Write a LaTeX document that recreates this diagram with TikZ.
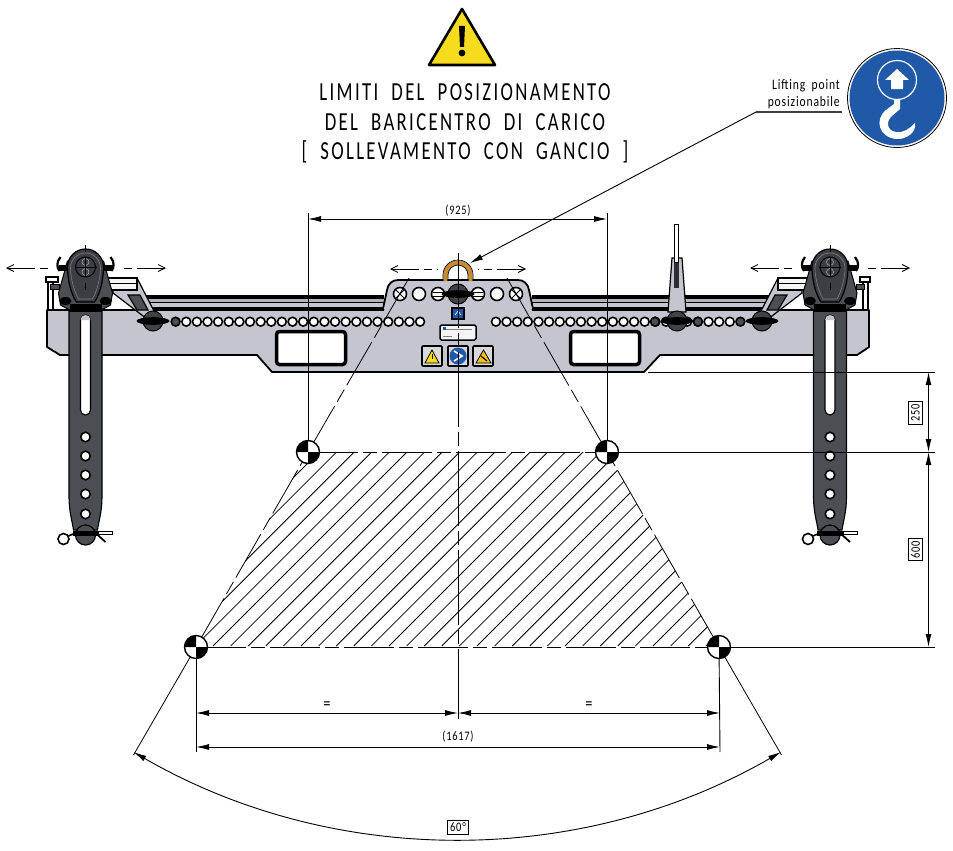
\documentclass[tikz,border=0pt]{standalone}
\usepackage{fontspec}
\setmainfont{Carlito}
\newfontfamily\titlefont[LetterSpace=9,FakeStretch=0.72,WordSpace=2]{Carlito}
\newfontfamily\dimfont[LetterSpace=6,FakeStretch=0.8,WordSpace=1.8]{Carlito}
\usetikzlibrary{arrows.meta,calc}
\definecolor{beamgrey}{HTML}{C5C5CF}
\definecolor{darksteel}{HTML}{4B4E53}
\definecolor{signblue}{HTML}{2059A8}
\definecolor{signyellow}{HTML}{F6DC1E}
\definecolor{eyeorange}{HTML}{C98A32}
\tikzset{
  dimline/.style={line width=0.9pt,{Latex[length=13pt,width=6pt]}-{Latex[length=13pt,width=6pt]}},
  extline/.style={line width=0.9pt},
  axisline/.style={line width=0.8pt,dash pattern=on 50pt off 5pt on 14pt off 5pt},
  hole/.style={circle,draw=black,fill=white,line width=1.6pt,inner sep=0pt,minimum size=#1},
  hole/.default=8.8pt,
  dimtext/.style={font=\dimfont\fontsize{13}{13}\selectfont,inner sep=1pt},
  eqtext/.style={font=\dimfont\fontsize{18}{18}\selectfont,inner sep=0pt},
  boxtext/.style={dimtext,draw=black,fill=white,line width=0.7pt,inner sep=2.5pt},
  titletext/.style={font=\titlefont\fontsize{26}{26}\selectfont,inner sep=0pt},
  cogmark/.pic={
    \fill[white] (0,0) circle (11.5);
    \fill[black] (0,0) -- (11.5,0) arc (0:90:11.5) -- cycle;
    \fill[black] (0,0) -- (-11.5,0) arc (180:270:11.5) -- cycle;
    \draw[line width=1.4pt] (0,0) circle (11.5);
  },
  knob/.pic={
    \fill[darksteel!85!black,draw=black,line width=1pt] (0,0) circle (10);
    \fill[black] (0,0) ellipse (16.5 and 3.8);
  },
  hanger/.pic={
    % foot behind the head
    \fill[darksteel,draw=black,line width=1pt] (-18,-6) -- (-27,26) -- (-25,38) -- (-14,44) -- (14,44) -- (25,38) -- (27,26) -- (18,-6) -- cycle;
    % side rods and clips
    \fill[black] (-27,-2) rectangle (27,4);
    \draw[line width=2.2pt] (-26,4) .. controls (-29,0) and (-29,-5) .. (-25,-10);
    \draw[line width=2.2pt] (26,4) .. controls (29,0) and (29,-5) .. (25,-10);
    % strap with slot
    \fill[darksteel,draw=black,line width=1.1pt]
      (-16.5,44) -- (16.5,44) -- (16.5,230) .. controls (16.5,245) and (13,255) .. (12,263) -- (-12,263) .. controls (-13,255) and (-16.5,245) .. (-16.5,230) -- cycle;
    \fill[white,draw=black,line width=1.1pt] (-5,53) -- (-5,143) arc (180:0:5) -- (5,53) arc (360:180:5) -- cycle;
    \fill[beamgrey] (-5,53) arc (180:360:5) -- cycle;
    % black band and blobs at the foot
    \fill[black] (-20,34) ellipse (6 and 4) (20,34) ellipse (6 and 4);
    \fill[black] (-16,37) rectangle (16,45);
    % head
    \fill[darksteel!80!black,draw=black,line width=1.2pt] (-18,0) arc (180:360:18) .. controls (18,14) and (14,28) .. (9,35) -- (-9,35) .. controls (-14,28) and (-18,14) .. (-18,0) -- cycle;
    \draw[line width=0.6pt,gray] (-15,1) arc (180:360:15) .. controls (15,12) and (11,25) .. (7,32) -- (-7,32) .. controls (-11,25) and (-15,12) .. (-15,1) -- cycle;
    \draw[line width=1pt] (0,0) circle (10);
    \draw[line width=0.5pt,white!70!black] (0,-5) circle (3.5) (0,5) circle (3.5);
    \draw[line width=0.8pt] (-11,0) -- (11,0) (0,-22) -- (0,-15) (0,-10) -- (0,10) (0,16) -- (0,23);
    % holes
    \foreach \hy in {170,189,208,227,247}
      \node[hole=9.5pt] (hangerhole\hy) at (0,\hy) {};
    % pin at the bottom
    \fill[darksteel,draw=black,line width=1.2pt] (0,268) circle (10);
    \draw[line width=1.6pt] (-22,272) circle (5.5);
    \draw[line width=1.6pt] (-17,269) -- (-10,266);
    \fill[black] (-13,263.5) rectangle (13,268.5);
    \draw[line width=1pt,fill=white] (13,264) rectangle (27,267.5);
    \draw[line width=1.8pt] (10,266) -- (20,275);
  },
  sliderarm/.pic={
    % reaches from the knob (0,0) up and outward (drawn for the left side)
    \fill[beamgrey,draw=black,line width=1.2pt] (-16,-43) -- (2,-8) -- (-6,-2) -- (-40,-28) -- (-40,-43) -- cycle;
    \fill[darksteel,draw=black,line width=1.2pt] (-25,-26) -- (-13,-26) -- (-5,-11) -- (-16,-11) -- cycle;
    \fill[white!85!beamgrey,draw=black,line width=1.2pt] (-45,-43) rectangle (-16,-31);
    \draw[line width=0.8pt] (-43,-38) -- (-16,-38);
  }
}
\begin{document}
\begin{tikzpicture}[x=1pt,y=-1pt]
\useasboundingbox (0,0) rectangle (953,851);
\fill[white] (0,0) rectangle (953,851);
% key points
\coordinate (cogTL) at (308,452);
\coordinate (cogTR) at (607,452);
\coordinate (cogBL) at (196,647);
\coordinate (cogBR) at (719,647);
\coordinate (axisTop) at (458,253);
\coordinate (axisBot) at (458,719);

% warning sign
\fill[signyellow,draw=black,line width=2.6pt,line join=round] (462,9) -- (495,65) -- (429,65) -- cycle;
\fill[black] (459,26) -- (465,26) -- (464,47) -- (460,47) -- cycle;
\fill[black] (462,53) circle (3.4);

% title
\node[titletext] (title1) at (465,92) {LIMITI DEL POSIZIONAMENTO};
\node[titletext] (title2) at (465,122) {DEL BARICENTRO DI CARICO};
\node[titletext] (title3) at (465,152) {[ SOLLEVAMENTO CON GANCIO ]};

% hook sign
\node[circle,draw=black,line width=0.8pt,fill=white,minimum size=99pt,inner sep=0pt] (signout) at (897,98) {};
\node[circle,fill=signblue,minimum size=95pt,inner sep=0pt] (sign) at (897,98) {};
\node[circle,draw=white,line width=1.2pt,minimum size=39pt,inner sep=0pt] (signring) at (897,80) {};
\fill[white] (897,69) -- (909,80) -- (903,80) -- (903,89) -- (891,89) -- (891,80) -- (885,80) -- cycle;
\fill[white] (894,99.5) -- (900,99.5) -- (900,109) -- (893,115)
  .. controls (885,121) and (887,131) .. (896,132)
  .. controls (904,133) and (909,129) .. (915,123)
  .. controls (917,132) and (906,140) .. (896,139)
  .. controls (879,137) and (874,120) .. (886,110)
  -- (894,104) -- cycle;

% rails
\fill[black] (140,295) rectangle (384,312);
\fill[gray!60] (140,298.5) rectangle (384,301.5);
\fill[beamgrey] (140,303) rectangle (384,307);
\fill[black] (532,295) rectangle (775,312);
\fill[gray!60] (532,298.5) rectangle (775,301.5);
\fill[beamgrey] (532,303) rectangle (775,307);

% beam
\fill[beamgrey,draw=black,line width=1.8pt,line join=round]
  (47,310) -- (47,347) -- (60,355) -- (257,355) -- (272,372) -- (644,372) -- (660,355) -- (857,355) -- (869,347) -- (869,310) -- cycle;
% centre plate
\fill[beamgrey] (384,312) -- (387,290) .. controls (388,284) and (392,280) .. (398,280) -- (518,280) .. controls (524,280) and (528,284) .. (529,290) -- (532,312) -- cycle;
\draw[line width=1.8pt] (383,309) -- (387,290) .. controls (388,284) and (392,280) .. (398,280) -- (518,280) .. controls (524,280) and (528,284) .. (529,290) -- (533,309);

% windows
\foreach \wx in {275,569}{
  \fill[white,draw=black,line width=3.5pt,rounded corners=3pt] (\wx+1.5,331.5) rectangle (\wx+70.5,364.5);
}
% beam holes
\foreach \i in {1,...,23}{
  \node[hole] (hl\i) at ({175.6+10.63*\i},321.7) {};
  \node[hole] (hr\i) at ({740.4-10.63*\i},321.7) {};
}
\foreach \hx in {175.6,655,698,740.4}
  \node[hole,fill=darksteel] (hd\hx) at (\hx,321.7) {};

% eye
\draw[eyeorange,line width=4.4pt] (445.5,281) -- (445.5,275) arc (180:360:12.5) -- (470.5,281);
\draw[line width=0.7pt] (443,281) -- (443,275) arc (180:360:15) -- (473,281);
\draw[line width=0.7pt] (448,281) -- (448,275) arc (180:360:10) -- (468,281);

% plate holes and knob
\foreach \px in {419,497}
  \node[hole=13pt] (ph\px) at (\px,294) {};
\foreach \px in {400,516}{
  \node[hole=13pt] (ph\px) at (\px,294) {};
  \draw[line width=0.8pt] ($(\px,294)+(-4,-4)$) -- ($(\px,294)+(4,4)$) ($(\px,294)+(-4,4)$) -- ($(\px,294)+(4,-4)$);
}
\foreach \px in {438,478}{
  \node[hole=13pt] (ph\px) at (\px,294) {};
  \draw[line width=1pt] ($(\px,294)+(-5,-2)$) -- ($(\px,294)+(5,-2)$) ($(\px,294)+(-5,2)$) -- ($(\px,294)+(5,2)$);
}
\pic at (458,294) {knob};

% plate labels
\fill[signblue,draw=black,line width=1.2pt] (452,308) rectangle (464,319);
\draw[white,line width=0.6pt] (455,315) -- (458,311) -- (461,315);
\fill[white!92!gray,draw=black,line width=1.5pt,rounded corners=1.5pt] (440,325) rectangle (476,340);
\draw[gray,line width=0.5pt] (443,329) -- (472,329) (443,336) -- (452,336);
\fill[signblue] (443,327) rectangle (446,330);
% three icons
\foreach \ix in {422,448,473}
  \fill[black!15,draw=black,line width=1.6pt,rounded corners=1pt] (\ix,346) rectangle (\ix+20,366);
\fill[signyellow,draw=black,line width=0.8pt] (432,350) -- (439,363) -- (425,363) -- cycle;
\draw[line width=1pt] (432,354) -- (432,359);
\fill[signblue] (458,356) circle (8.5);
\draw[white,line width=1.6pt] (454,351) -- (462,356) -- (454,361);
\fill[signyellow!70!orange,draw=black,line width=0.8pt] (483.5,350) -- (491,363) -- (476,363) -- cycle;
\draw[line width=1.1pt] (481,356) -- (487,361);

% slider arms and knobs
\pic at (153,321) {sliderarm};
\begin{scope}[shift={(762,321)},xscale=-1]
  \pic[transform shape] at (0,0) {sliderarm};
\end{scope}
\pic at (153,321) {knob};
\pic at (762,321) {knob};
% standing arm
\fill[beamgrey,draw=black,line width=1.2pt] (668,312) -- (672,258) -- (682,258) -- (686,312) -- cycle;
\fill[darksteel!60!black] (674,258) rectangle (679,288);
\fill[white,draw=black,line width=0.9pt] (674.5,224) rectangle (678,262);
\pic at (677,321) {knob};

% end bracket (left)
\draw[line width=1.2pt,fill=white] (48,278) rectangle (53,310);
\draw[line width=1.2pt,fill=white] (46,277) -- (58,277) -- (58,282) -- (46,282) -- cycle;
\draw[line width=1pt,fill=darksteel] (50,284) rectangle (59,289);
% end bracket (right)
\draw[line width=1.2pt,fill=white] (863,278) rectangle (868,310);
\draw[line width=1.2pt,fill=white] (860,277) -- (870,277) -- (870,282) -- (860,282) -- cycle;
\draw[line width=1pt,fill=darksteel] (856,284) rectangle (864,289);

% hangers
\pic at (85.5,267) {hanger};
\pic at (830,267) {hanger};

% move arrows
\coordinate (mL1) at (6,268); \coordinate (mL2) at (52,268);
\coordinate (mL3) at (121,268); \coordinate (mL4) at (166,268);
\coordinate (mR1) at (750,268); \coordinate (mR2) at (795,268);
\coordinate (mR3) at (865,268); \coordinate (mR4) at (910,268);
\coordinate (mC1) at (390,269); \coordinate (mC2) at (438,269);
\coordinate (mC3) at (478,269); \coordinate (mC4) at (526,269);
\foreach \a/\b in {mL1/mL2,mR1/mR2,mC1/mC2,mL4/mL3,mR4/mR3,mC4/mC3}
  \draw[line width=0.8pt,dash pattern=on 28pt off 5pt on 8pt off 5pt,{Straight Barb[length=7pt,width=7pt]}-] (\a) -- (\b);

% hatched area
\begin{scope}
  \clip (cogTL) -- (cogTR) -- (cogBR) -- (cogBL) -- cycle;
  \foreach \k in {-6,...,29}
    \draw[line width=0.8pt] ({213+17.6*\k},646) -- ({213+17.6*\k+200},446);
\end{scope}
\draw[axisline] (cogTL) -- (cogTR);
\draw[axisline] (cogBL) -- (cogBR);
% sloped limits
\draw[axisline] (409,278) -- (cogTL) -- (cogBL);
\draw[axisline] (507,278) -- (cogTR) -- (cogBR);
\draw[line width=0.8pt] (cogBL) -- (133.5,755);
\draw[line width=0.8pt] (cogBR) -- (781.5,755);
% centre axis
\draw[line width=0.8pt,dash pattern=on 75pt off 5pt on 14pt off 5pt] (axisTop) -- (axisBot);

% extension lines
\draw[extline] (308,213) -- (cogTL);
\draw[extline] (607,213) -- (cogTR);
\draw[extline] (cogBL) -- (196,752);
\draw[extline] (cogBR) -- (720,752);
\draw[extline] (648,372) -- (935,372);
\draw[extline] (cogTR) -- (935,452);
\draw[extline] (cogBR) -- (935,647);

% dimensions
\coordinate (d925a) at (308,219); \coordinate (d925b) at (607,219);
\draw[dimline] (d925a) -- (d925b);
\node[dimtext] (lab925) at (458,211) {(925)};
\coordinate (dEqa) at (196,713); \coordinate (dEqm) at (458,713); \coordinate (dEqb) at (720,713);
\draw[dimline] (dEqa) -- (dEqm);
\draw[dimline] (dEqm) -- (dEqb);
\node[eqtext] (eq1) at (327,706) {=};
\node[eqtext] (eq2) at (589,706) {=};
\coordinate (d1617a) at (196,747); \coordinate (d1617b) at (720,747);
\draw[dimline] (d1617a) -- (d1617b);
\node[dimtext] (lab1617) at (458,737) {(1617)};
\coordinate (d250a) at (928.5,372); \coordinate (d250b) at (928.5,452); \coordinate (d600b) at (928.5,647);
\draw[dimline] (d250a) -- (d250b);
\draw[dimline] (d250b) -- (d600b);
\node[boxtext,rotate=90] (lab250) at (915.5,413) {250};
\node[boxtext,rotate=90] (lab600) at (915.5,549.5) {600};
% angle arc
\draw[dimline] (133.5,752) arc (120:60:647.5);
\node[boxtext] (lab60) at (458,827) {60°};

% centre-of-gravity marks
\pic at (cogTL) {cogmark};
\pic at (cogTR) {cogmark};
\pic at (cogBL) {cogmark};
\pic at (cogBR) {cogmark};

% leader
\coordinate (leaderTip) at (470,263);
\coordinate (leaderKnee) at (756,112);
\coordinate (leaderEnd) at (842,112);
\draw[line width=0.9pt,{Latex[length=13pt,width=6pt]}-] (leaderTip) -- (leaderKnee);
\draw[line width=1.3pt,gray!50!black] (leaderKnee) -- (leaderEnd);
\node[font=\dimfont\fontsize{14.5}{14.5}\selectfont,anchor=east,inner sep=0pt] (lift1) at (840,85.5) {Lifting point};
\node[font=\dimfont\fontsize{14.5}{14.5}\selectfont,anchor=east,inner sep=0pt] (lift2) at (840,103) {posizionabile};
\end{tikzpicture}
\end{document}
